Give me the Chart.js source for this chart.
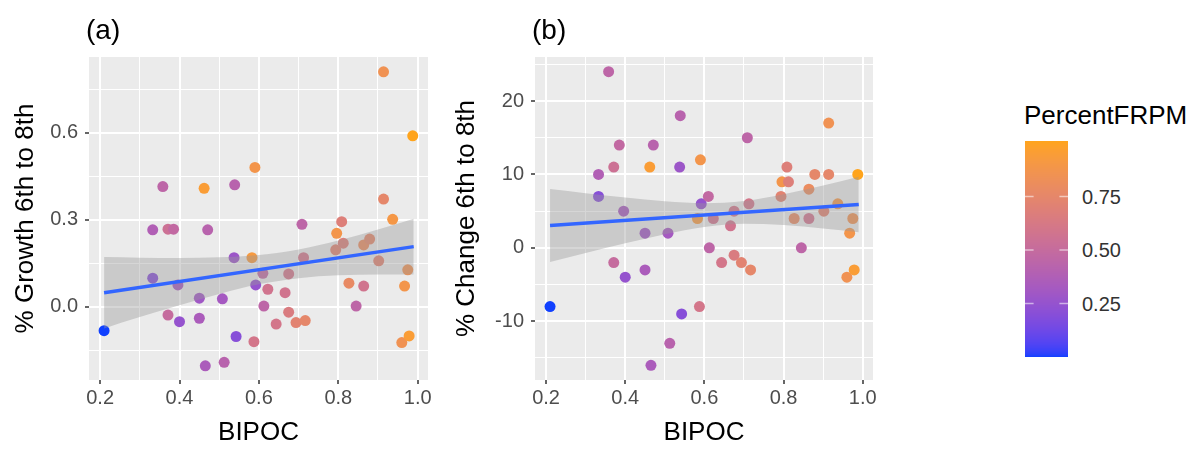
<!DOCTYPE html>
<html>
<head>
<meta charset="utf-8">
<script src="https://cdn.jsdelivr.net/npm/chart.js@4.4.0/dist/chart.umd.min.js"></script>
<style>
  body { margin: 0; background: #fff; font-family: "Liberation Sans", Arial, Helvetica, sans-serif; }
  #wrap { position: relative; width: 1202px; height: 451px; overflow: hidden; }
  canvas { position: absolute; top: 0; }
  .tag { position: absolute; top: 16px; font-size: 28px; color: #000; line-height: 1; }
  .legend-title { position: absolute; left: 1024px; top: 102px; font-size: 26px; color: #000; line-height: 1; }
  .legend-label { position: absolute; left: 1082px; font-size: 20px; color: #333; line-height: 20px; margin-top: -10px; }
</style>
</head>
<body>
<div id="wrap">
  <canvas id="panelA" width="440" height="451" style="left:0"></canvas>
  <canvas id="panelB" width="445" height="451" style="left:440px"></canvas>
  <canvas id="bar" width="43" height="216" style="left:1025px; top:141px"></canvas>
  <div class="tag" style="left:86px">(a)</div>
  <div class="tag" style="left:532px">(b)</div>
  <div class="legend-title">PercentFRPM</div>
  <div id="legendLabels"></div>
</div>
<script>
// share of BIPOC students per school (x in both panels)
const bipoc = [0.21, 0.3325, 0.3325, 0.358, 0.371, 0.371, 0.385, 0.396, 0.40, 0.45,
  0.45, 0.462, 0.471, 0.465, 0.508, 0.5125, 0.539, 0.5375, 0.5425, 0.59,
  0.5825, 0.592, 0.5875, 0.61, 0.6225, 0.6125, 0.6435, 0.666, 0.675, 0.675,
  0.6935, 0.7167, 0.7085, 0.7125, 0.796, 0.8085, 0.7935, 0.8125, 0.8268, 0.845,
  0.864, 0.864, 0.879, 0.9018, 0.914, 0.914, 0.937, 0.975, 0.967, 0.96,
  0.9785, 0.9875];

// % growth 6th to 8th
const growth = [-0.083, 0.098, 0.265, 0.414, -0.029, 0.267, 0.267, 0.075, -0.052, 0.029,
  -0.040, 0.408, 0.265, -0.204, 0.027, -0.192, 0.42, 0.169, -0.103, 0.48,
  0.169, 0.075, -0.121, 0.115, 0.06, 0.002, -0.06, 0.048, 0.113, -0.019,
  -0.055, -0.048, 0.284, 0.169, 0.253, 0.293, 0.196, 0.219, 0.081, 0.002,
  0.071, 0.213, 0.233, 0.158, 0.371, 0.81, 0.301, 0.127, 0.071, -0.124,
  -0.101, 0.589];

// % change 6th to 8th
const change = [-8, 7, 10, 24, -2, 11, 14, 5, -4, 2,
  -3, 11, 14, -16, 2, -13, 18, 11, -9, 12,
  4, 6, -8, 7, 4, 0, -2, 3, 5, -1,
  -2, -3, 15, 6, 9, 11, 7, 9, 4, 0,
  4, 8, 10, 5, 10, 17, 6, 4, 2, -4,
  -3, 10];

// percent free/reduced price meals (colour)
const frpm = [0.0, 0.2, 0.38, 0.45, 0.5, 0.55, 0.48, 0.33, 0.25, 0.3,
  0.35, 0.95, 0.42, 0.35, 0.32, 0.42, 0.42, 0.28, 0.2, 0.88,
  0.92, 0.25, 0.6, 0.48, 0.58, 0.45, 0.6, 0.58, 0.6, 0.65,
  0.72, 0.75, 0.45, 0.6, 0.88, 0.68, 0.72, 0.68, 0.78, 0.45,
  0.58, 0.8, 0.75, 0.72, 0.75, 0.85, 0.9, 0.85, 0.88, 0.85,
  0.95, 1.01];

// linear fit and its confidence band
const fitX = [0.21, 0.99];
const fitGrowth = [0.048, 0.207];
const fitChange = [3.04, 5.90];
const bandX = [0.21, 0.3, 0.4, 0.5, 0.6, 0.7, 0.8, 0.9, 0.99];
const bandGrowthLo = [-0.075, -0.036, 0.005, 0.044, 0.077, 0.098, 0.108, 0.111, 0.111];
const bandGrowthHi = [0.171, 0.169, 0.168, 0.170, 0.178, 0.197, 0.228, 0.266, 0.303];
const bandChangeLo = [-1.94, -0.71, 0.62, 1.86, 2.85, 3.29, 3.11, 2.63, 2.11];
const bandChangeHi = [8.02, 7.45, 6.86, 6.36, 6.09, 6.39, 7.31, 8.51, 9.69];

// tick values
const xMajor = [0.2, 0.4, 0.6, 0.8, 1.0];
const xMinor = [0.3, 0.5, 0.7, 0.9];
const growthMajor = [0.0, 0.3, 0.6];
const growthMinor = [-0.15, 0.15, 0.45, 0.75];
const changeMajor = [-10, 0, 10, 20];
const changeMinor = [-15, -5, 5, 15, 25];
const legendTicks = [0.25, 0.50, 0.75];

// blue -> orange ramp interpolated in CIELAB
function hexToRgb(h) {
  return [parseInt(h.slice(1, 3), 16), parseInt(h.slice(3, 5), 16), parseInt(h.slice(5, 7), 16)];
}
function rgbToLab([r, g, b]) {
  const lin = c => { c /= 255; return c <= 0.04045 ? c / 12.92 : Math.pow((c + 0.055) / 1.055, 2.4); };
  const R = lin(r), G = lin(g), B = lin(b);
  let X = (R * 0.4124 + G * 0.3576 + B * 0.1805) / 0.95047;
  let Y = (R * 0.2126 + G * 0.7152 + B * 0.0722);
  let Z = (R * 0.0193 + G * 0.1192 + B * 0.9505) / 1.08883;
  const f = t => t > 0.008856 ? Math.cbrt(t) : 7.787 * t + 16 / 116;
  X = f(X); Y = f(Y); Z = f(Z);
  return [116 * Y - 16, 500 * (X - Y), 200 * (Y - Z)];
}
function labToRgb([L, a, b]) {
  let Y = (L + 16) / 116, X = a / 500 + Y, Z = Y - b / 200;
  const fi = t => t * t * t > 0.008856 ? t * t * t : (t - 16 / 116) / 7.787;
  X = fi(X) * 0.95047; Y = fi(Y); Z = fi(Z) * 1.08883;
  let R = X * 3.2406 + Y * -1.5372 + Z * -0.4986;
  let G = X * -0.9689 + Y * 1.8758 + Z * 0.0415;
  let B = X * 0.0557 + Y * -0.2040 + Z * 1.0570;
  const gam = c => { c = c <= 0.0031308 ? 12.92 * c : 1.055 * Math.pow(c, 1 / 2.4) - 0.055; return Math.round(Math.min(1, Math.max(0, c)) * 255); };
  return [gam(R), gam(G), gam(B)];
}
const lowLab = rgbToLab(hexToRgb('#1040ff'));
const highLab = rgbToLab(hexToRgb('#ffa41c'));
const frpmMin = Math.min(...frpm), frpmMax = Math.max(...frpm);
function colourFor(v) {
  const t = (v - frpmMin) / (frpmMax - frpmMin);
  const lab = lowLab.map((c, i) => c + (highLab[i] - c) * t);
  const [r, g, b] = labToRgb(lab);
  return `rgb(${r},${g},${b})`;
}
const pointColours = frpm.map(colourFor);

const FONT = '"Liberation Sans", Arial, Helvetica, sans-serif';

const panelBackground = {
  id: 'panelBackground',
  beforeDraw(chart) {
    const { ctx, chartArea: a } = chart;
    ctx.save();
    ctx.fillStyle = '#EBEBEB';
    ctx.fillRect(a.left, a.top, a.right - a.left, a.bottom - a.top);
    ctx.restore();
  }
};

function near(list, v) {
  return list.some(m => Math.abs(m - v) < 1e-6);
}

function axisOptions(major, minor, min, max, fmt, title, size, titlePad) {
  const horizontal = size.height !== undefined;
  return {
    type: 'linear',
    min: min,
    max: max,
    afterBuildTicks(axis) {
      axis.ticks = major.concat(minor).sort((p, q) => p - q).map(v => ({ value: v }));
    },
    afterFit(axis) {
      if (horizontal) axis.height = size.height; else axis.width = size.width;
    },
    border: { display: false },
    grid: {
      color: '#FFFFFF',
      lineWidth: c => (c.tick && near(major, c.tick.value)) ? 2 : 1,
      tickColor: c => (c.tick && near(major, c.tick.value)) ? '#333333' : 'rgba(0,0,0,0)',
      tickLength: 4,
      tickWidth: 1.5,
      drawTicks: true
    },
    ticks: {
      autoSkip: false,
      maxRotation: 0,
      padding: horizontal ? 2 : 7,
      color: '#4D4D4D',
      font: { family: FONT, size: 20 },
      callback: v => near(major, v) ? fmt(v) : ''
    },
    title: {
      display: true,
      text: title,
      color: '#000',
      font: { family: FONT, size: 26 },
      padding: titlePad
    }
  };
}

function makePanel(id, yVals, fitY, bandLo, bandHi, yMajor, yMinor, yMin, yMax, yFmt, yTitle, yAxisWidth, yTitlePad) {
  const pts = bipoc.map((x, i) => ({ x: x, y: yVals[i] }));
  const fit = fitX.map((x, i) => ({ x: x, y: fitY[i] }));
  const hi = bandX.map((x, i) => ({ x: x, y: bandHi[i] }));
  const lo = bandX.map((x, i) => ({ x: x, y: bandLo[i] }));
  return new Chart(document.getElementById(id), {
    type: 'scatter',
    data: {
      datasets: [
        { type: 'line', data: fit, borderColor: '#3366FF', borderWidth: 3.5, pointRadius: 0, fill: false, order: 0 },
        { type: 'line', data: hi, borderColor: 'transparent', borderWidth: 0, pointRadius: 0,
          fill: '+1', backgroundColor: 'rgba(153,153,153,0.4)', cubicInterpolationMode: 'monotone', order: 1 },
        { type: 'line', data: lo, borderColor: 'transparent', borderWidth: 0, pointRadius: 0,
          fill: false, cubicInterpolationMode: 'monotone', order: 1 },
        { data: pts, pointRadius: 5.5, pointHoverRadius: 5.5, pointBackgroundColor: pointColours,
          pointBorderWidth: 0, order: 2 }
      ]
    },
    options: {
      responsive: false,
      animation: false,
      events: [],
      layout: { padding: { top: 57, right: 12, left: 0, bottom: 0 } },
      plugins: { legend: { display: false }, tooltip: { enabled: false } },
      scales: {
        x: axisOptions(xMajor, xMinor, 0.172, 1.026, v => v.toFixed(1), 'BIPOC', { height: 71 }, { top: 0, bottom: 3 }),
        y: axisOptions(yMajor, yMinor, yMin, yMax, yFmt, yTitle, { width: yAxisWidth }, { top: yTitlePad, bottom: 0 })
      }
    },
    plugins: [panelBackground]
  });
}

makePanel('panelA', growth, fitGrowth, bandGrowthLo, bandGrowthHi, growthMajor, growthMinor,
  -0.253, 0.861, v => v.toFixed(1), '% Growth 6th to 8th', 89, 10);
makePanel('panelB', change, fitChange, bandChangeLo, bandChangeHi, changeMajor, changeMinor,
  -18, 26, v => String(v), '% Change 6th to 8th', 95, 11);

// colour bar legend
(function drawBar() {
  const c = document.getElementById('bar');
  const ctx = c.getContext('2d');
  const h = c.height, w = c.width;
  for (let py = 0; py < h; py++) {
    const v = frpmMax - (py + 0.5) / h * (frpmMax - frpmMin);
    ctx.fillStyle = colourFor(v);
    ctx.fillRect(0, py, w, 1);
  }
  const labels = document.getElementById('legendLabels');
  legendTicks.forEach(t => {
    const py = (frpmMax - t) / (frpmMax - frpmMin) * h;
    ctx.strokeStyle = 'rgba(255,255,255,0.55)';
    ctx.lineWidth = 1.5;
    ctx.beginPath();
    ctx.moveTo(0, py); ctx.lineTo(w / 5, py);
    ctx.moveTo(w - w / 5, py); ctx.lineTo(w, py);
    ctx.stroke();
    const d = document.createElement('div');
    d.className = 'legend-label';
    d.style.top = (141 + py) + 'px';
    d.textContent = t.toFixed(2);
    labels.appendChild(d);
  });
})();
</script>
</body>
</html>
